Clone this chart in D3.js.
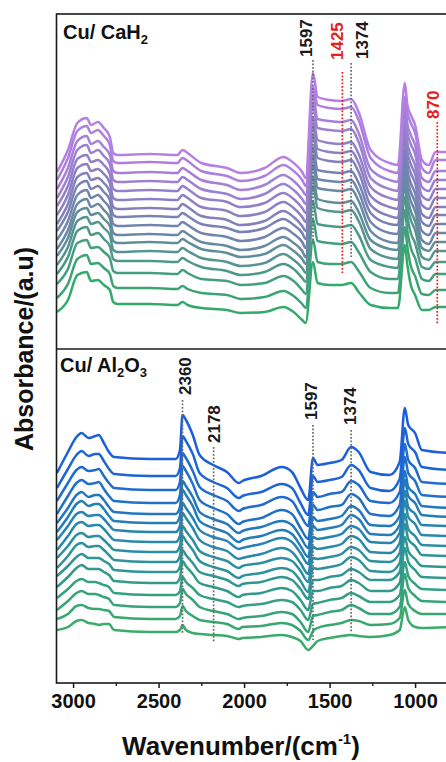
<!DOCTYPE html>
<html>
<head>
<meta charset="utf-8">
<script src="https://cdn.jsdelivr.net/npm/d3@7"></script>
<style>
  body { margin: 0; background: #fff; }
  svg { display: block; font-family: "Liberation Sans", Arial, sans-serif; }
</style>
</head>
<body>
<svg id="chart"></svg>
<script>
// wavenumber grids (cm-1) for the two panels
const cah2Wn = [3094,3030,2975,2920,2895,2855,2820,2785,2765,2740,2550,2390,2360,2330,2250,2100,2020,1880,1770,1710,
                1660,1640,1597,1570,1500,1430,1374,1330,1260,1150,1100,1060,1045,1025,1000,960,920,880,850,800];
const al2o3Wn = [3094,3030,2980,2950,2910,2870,2850,2820,2790,2760,2550,2400,2375,2360,2340,2300,2260,2180,2100,2030,
                 2010,1900,1780,1720,1670,1625,1597,1570,1500,1430,1374,1330,1260,1150,1090,1060,1040,1000,960,800];

// stacked absorbance traces (a.u., already offset), top trace first
const cah2Spectra = [
  [177,199,226,231,224,227,221,212,196,194,195,194,199,196,186,181,176,181,192,186,177,171,276,252,249,248,250,237,199,186,184,266,244,234,224,189,184,197,197,197],
  [169,191,218,223,216,219,213,204,188,186,187,186,191,188,178,173,168,173,184,178,169,163,262,244,241,240,242,229,191,178,176,252,236,226,216,181,176,189,189,189],
  [160,181,208,213,205,208,202,194,178,176,177,176,181,178,169,164,159,164,174,168,159,154,254,230,228,227,229,216,180,169,167,247,225,214,204,171,167,178,178,178],
  [151,172,199,204,196,199,193,185,169,167,168,167,172,169,160,155,150,155,165,159,150,145,245,221,219,218,220,207,171,160,158,238,216,205,195,162,158,169,169,169],
  [143,163,190,194,187,189,184,175,160,158,159,158,163,160,151,147,142,146,156,150,141,136,232,209,206,205,207,195,162,151,149,228,206,194,184,153,149,160,160,160],
  [134,154,181,185,178,180,175,166,151,149,150,149,154,151,142,138,133,137,147,141,132,127,223,200,197,196,198,186,153,142,140,219,197,185,175,144,140,151,151,151],
  [125,145,172,176,169,171,166,157,142,140,141,140,145,142,133,129,124,128,138,132,123,118,214,191,188,187,189,177,144,133,131,210,188,176,166,135,131,142,142,142],
  [118,137,163,168,160,163,157,149,134,132,133,132,136,133,125,121,117,121,130,124,116,110,202,179,177,176,178,166,136,125,124,200,179,166,156,127,123,134,134,134],
  [109,128,154,159,151,154,148,140,125,123,124,123,127,124,116,112,108,112,121,115,107,101,193,170,168,167,169,157,127,116,115,191,170,157,147,118,114,125,125,125],
  [100,119,145,150,142,145,139,131,116,114,115,114,118,115,107,103,99,103,112,106,98,92,184,161,159,158,160,148,118,107,106,182,161,148,138,109,105,116,116,116],
  [93,111,137,141,134,136,130,123,108,106,107,106,110,107,100,96,92,95,104,98,90,85,172,150,147,146,148,137,109,100,99,173,152,138,128,101,98,107,107,107],
  [84,102,128,132,125,127,121,114,99,97,98,97,101,98,91,87,83,86,95,89,81,76,163,141,138,137,139,128,100,91,90,164,143,129,119,92,89,98,98,98],
  [75,92,118,122,114,116,110,103,90,88,88,87,91,88,82,78,74,77,85,80,71,67,148,125,123,122,124,114,89,82,81,152,132,116,106,82,80,87,87,87],
  [65,80,106,109,101,102,97,91,78,76,76,75,79,76,70,68,64,66,73,68,59,55,130,108,106,105,107,97,77,70,70,139,118,101,91,70,68,75,75,75],
  [51,65,90,94,85,86,81,75,63,61,61,60,63,60,56,54,50,52,58,53,45,41,109,87,85,85,87,78,61,56,56,122,102,83,73,55,54,59,59,59],
  [37,49,74,77,68,69,64,59,47,45,45,44,47,44,41,39,36,37,42,37,29,26,87,66,64,64,66,57,44,41,41,104,84,64,54,39,39,42,42,42]
];
const al2o3Spectra = [
  [210,231,246,250,245,247,248,240,231,226,224,224,233,268,263,248,228,218,211,200,202,207,216,211,195,183,225,218,220,223,236,231,211,208,221,275,258,250,233,230],
  [195,214,228,232,227,229,229,222,214,209,207,207,215,247,242,229,210,201,195,185,187,191,199,195,180,168,207,201,203,206,218,213,195,192,204,255,239,231,216,213],
  [182,200,213,216,212,213,214,207,200,195,193,193,201,230,225,212,196,188,182,172,174,178,186,182,168,157,191,186,189,191,202,198,182,180,191,239,223,215,201,199],
  [169,187,200,203,199,200,201,194,187,182,180,180,188,217,212,199,183,175,169,159,161,165,173,169,155,144,178,173,176,178,189,185,169,167,178,226,210,202,188,186],
  [160,175,188,191,186,188,188,183,176,171,169,169,176,202,197,186,171,164,159,150,152,156,162,158,146,135,166,162,164,167,177,173,158,157,167,212,196,189,177,175],
  [151,166,179,182,177,179,179,174,167,162,160,160,167,193,188,177,162,155,150,141,143,147,153,149,137,126,157,153,155,158,168,164,149,148,158,203,187,180,168,166],
  [143,157,169,171,167,168,168,164,158,153,151,151,157,180,175,165,153,146,142,134,135,139,145,141,130,119,146,144,146,149,157,154,141,140,150,192,176,169,158,157],
  [133,147,159,161,157,158,158,154,148,143,141,141,147,170,165,155,143,136,132,124,125,129,135,131,120,109,136,134,136,139,147,144,131,130,140,182,166,159,148,147],
  [125,137,148,150,146,147,147,143,138,133,131,131,137,157,152,143,132,126,122,115,117,120,125,122,112,101,125,124,126,129,136,133,122,121,130,169,154,147,138,137],
  [115,127,138,140,136,137,137,133,128,123,121,121,127,147,142,133,122,116,112,105,107,110,115,112,102,91,115,114,116,119,126,123,112,111,120,159,144,137,128,127],
  [107,117,126,129,125,125,125,122,119,113,111,111,116,133,128,120,111,107,103,97,99,101,106,103,94,84,103,103,106,108,114,111,103,103,111,146,132,124,117,116],
  [96,106,115,118,114,114,114,111,108,102,100,100,105,122,117,109,100,96,92,86,88,90,95,92,83,73,92,92,95,97,103,100,92,92,100,135,121,113,106,105],
  [85,94,102,104,101,101,100,98,96,90,88,88,92,106,101,95,88,84,81,76,77,79,83,81,73,63,79,80,83,85,90,87,81,81,88,121,107,99,94,93],
  [73,82,90,92,89,89,88,86,84,78,76,76,80,94,89,83,76,72,69,64,65,67,71,69,61,51,67,68,71,73,78,75,69,69,76,109,95,87,82,81],
  [64,69,77,78,75,74,74,73,72,66,64,64,67,77,72,67,63,61,59,54,56,57,60,58,52,43,52,55,58,60,63,62,58,59,65,93,79,72,69,69],
  [53,56,62,63,60,59,58,59,59,53,51,51,53,58,53,50,49,48,47,44,45,46,48,46,42,33,37,42,45,47,48,47,46,48,53,76,63,56,55,56]
];

// marked bands
const cah2Bands = [1597, 1425, 1374, 870];
const cah2BandRed = [false, true, false, true];
const al2o3Bands = [2360, 2178, 1597, 1374];

const xTicks = [3000, 2500, 2000, 1500, 1000];
const xMinorTicks = [2750, 2250, 1750, 1250, 750];

let width = 446;
let height = 762;
let left = 57;
let panelTop = 14;
let panelMid = 349;
let panelBottom = 683;

// dotted guide extents (a.u.) and label placement (px)
let cah2Guide = [
  {y1: 289, y2: 104, lab: 57, dx: -7},
  {y1: 277, y2: 76, lab: 60, dx: -5},
  {y1: 286, y2: 92, lab: 59, dx: 11},
  {y1: 227, y2: 24, lab: 119, dx: -4}
];
let al2o3Guide = [
  {y1: 283, y2: 50, lab: 395, dx: 2},
  {y1: 236, y2: 40, lab: 443, dx: 0},
  {y1: 258, y2: 43, lab: 420, dx: -2},
  {y1: 253, y2: 50, lab: 425, dx: -1}
];

let svg = d3.select("#chart").attr("width", width).attr("height", height);
svg.append("rect").attr("width", width).attr("height", height).attr("fill", "#fff");

let xScale = d3.scaleLinear().domain([3094, 800]).range([left, left + 2294 * 0.171]);
let yTop = d3.scaleLinear().domain([0, 335]).range([panelMid, panelTop]);
let yBot = d3.scaleLinear().domain([0, 334]).range([panelBottom, panelMid]);

let colTop = d3.scaleLinear().domain([0, 7.5, 15]).range(["#b67fe6", "#7581b2", "#33a96b"]);
let colBot = d3.scaleLinear().domain([0, 7.5, 15]).range(["#1b5fdc", "#2a8ca6", "#3aab69"]);

svg.append("clipPath").attr("id", "clip")
   .append("rect").attr("x", left).attr("y", panelTop).attr("width", 420).attr("height", panelBottom - panelTop);

let drawPanel = (wn, spectra, y, col) => {
  let line = d3.line()
               .x((d, i) => xScale(wn[i]))
               .y(d => y(d))
               .curve(d3.curveMonotoneX);
  svg.append("g").attr("clip-path", "url(#clip)")
     .selectAll("path")
     .data(spectra.slice().reverse())
     .enter()
     .append("path")
     .attr("d", line)
     .attr("fill", "none")
     .attr("stroke", (d, i) => col(spectra.length - 1 - i))
     .attr("stroke-width", 2.5)
     .attr("stroke-linejoin", "round");
};

let drawBands = (bands, guide, y, red) => {
  let g = svg.append("g");
  bands.forEach((b, i) => {
    let c = red && red[i] ? "#e5211d" : "#6b6b6b";
    let tc = red && red[i] ? "#e5211d" : "#1a1a1a";
    let gd = guide[i];
    g.append("line")
     .attr("x1", xScale(b)).attr("x2", xScale(b))
     .attr("y1", y(gd.y1)).attr("y2", y(gd.y2))
     .attr("stroke", c).attr("stroke-width", 1.7)
     .attr("stroke-dasharray", "1.7,1.8");
    g.append("text")
     .attr("transform", "translate(" + (xScale(b) + gd.dx + 6) + "," + gd.lab + ") rotate(-90)")
     .attr("font-size", 17).attr("font-weight", "bold")
     .attr("fill", tc)
     .text(b);
  });
};

drawPanel(cah2Wn, cah2Spectra, yTop, colTop);
drawPanel(al2o3Wn, al2o3Spectra, yBot, colBot);
drawBands(cah2Bands, cah2Guide, yTop, cah2BandRed);
drawBands(al2o3Bands, al2o3Guide, yBot, null);

// frame
svg.append("rect")
   .attr("x", left - 0.5).attr("y", panelTop)
   .attr("width", 420).attr("height", panelBottom - panelTop)
   .attr("fill", "none").attr("stroke", "#1a1a1a").attr("stroke-width", 1.6);
svg.append("line")
   .attr("x1", left).attr("x2", width + 10)
   .attr("y1", panelMid).attr("y2", panelMid)
   .attr("stroke", "#1a1a1a").attr("stroke-width", 1.6);

// x axis
let xAxis = d3.axisBottom(xScale).tickValues(xTicks).tickSize(5).tickPadding(6).tickFormat(d3.format("d"));
let gx = svg.append("g").attr("transform", "translate(0," + panelBottom + ")").call(xAxis);
gx.select(".domain").remove();
gx.selectAll("line").attr("stroke", "#1a1a1a").attr("stroke-width", 1.5);
gx.selectAll("text").attr("font-size", 20).attr("font-weight", "bold").attr("fill", "#111")
  .attr("font-family", "Liberation Sans, Arial, sans-serif");
let gm = svg.append("g").attr("transform", "translate(0," + panelBottom + ")")
            .call(d3.axisBottom(xScale).tickValues(xMinorTicks).tickSize(3).tickFormat(""));
gm.select(".domain").remove();
gm.selectAll("line").attr("stroke", "#1a1a1a").attr("stroke-width", 1.3);

// panel names
let t1 = svg.append("text").attr("x", 63).attr("y", 39)
            .attr("font-size", 20).attr("font-weight", "bold").attr("fill", "#111");
t1.append("tspan").text("Cu/ CaH");
t1.append("tspan").attr("font-size", 13).attr("dy", 5).text("2");

let t2 = svg.append("text").attr("x", 60).attr("y", 372)
            .attr("font-size", 20).attr("font-weight", "bold").attr("fill", "#111");
t2.append("tspan").text("Cu/ Al");
t2.append("tspan").attr("font-size", 13).attr("dy", 5).text("2");
t2.append("tspan").attr("dy", -5).text("O");
t2.append("tspan").attr("font-size", 13).attr("dy", 5).text("3");

// axis titles
let xt = svg.append("text").attr("x", 241).attr("y", 755).attr("text-anchor", "middle")
            .attr("font-size", 26).attr("font-weight", "bold").attr("fill", "#111");
xt.append("tspan").text("Wavenumber/(cm");
xt.append("tspan").attr("font-size", 15).attr("dy", -11).text("-1");
xt.append("tspan").attr("dy", 11).text(")");

svg.append("text")
   .attr("transform", "translate(33,349) rotate(-90)")
   .attr("text-anchor", "middle")
   .attr("font-size", 25).attr("font-weight", "bold").attr("fill", "#111")
   .text("Absorbance/(a.u)");
</script>
</body>
</html>
